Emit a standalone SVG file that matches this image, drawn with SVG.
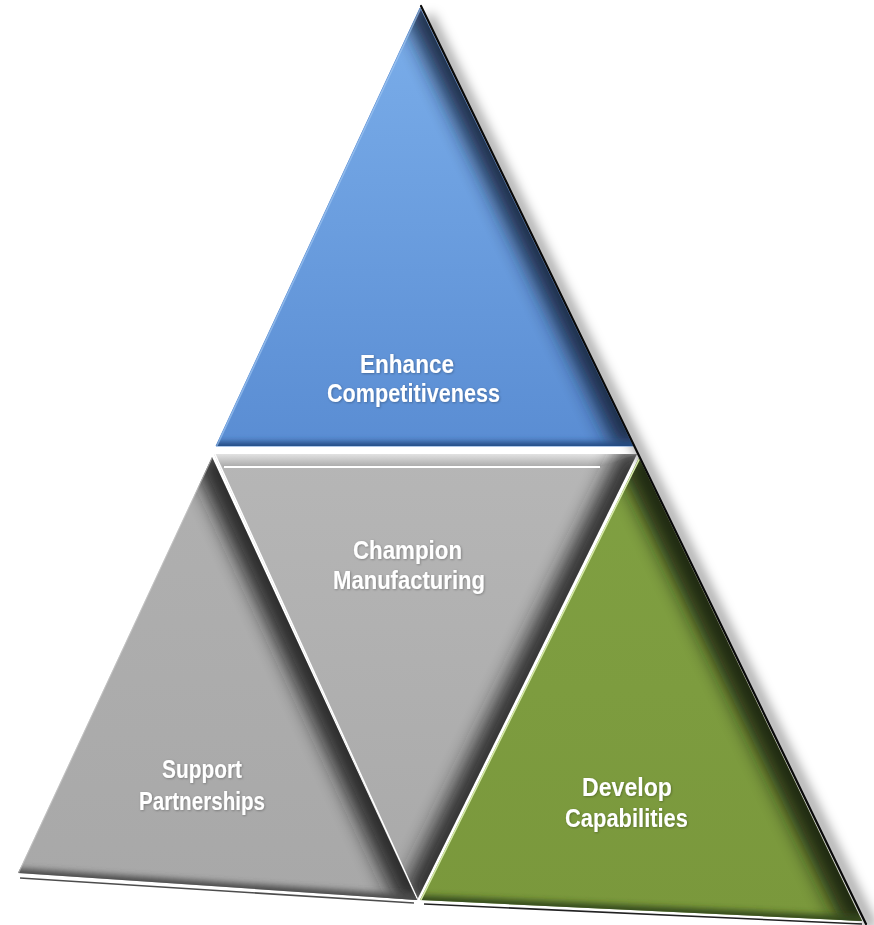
<svg xmlns="http://www.w3.org/2000/svg" width="874" height="925" viewBox="0 0 874 925">
<defs>
<style>
.lbl{font-family:"Liberation Sans",Arial,sans-serif;font-weight:bold;fill:#ffffff;filter:url(#ts)}
</style>
<linearGradient id="gBlue" gradientUnits="userSpaceOnUse" x1="0" y1="8" x2="0" y2="446"><stop offset="0" stop-color="#7BAEEA"/><stop offset="1" stop-color="#5A8DD3"/></linearGradient>
<linearGradient id="gMid" gradientUnits="userSpaceOnUse" x1="0" y1="454" x2="0" y2="900"><stop offset="0" stop-color="#b6b6b6"/><stop offset="1" stop-color="#a9a9a9"/></linearGradient>
<linearGradient id="gLeft" gradientUnits="userSpaceOnUse" x1="0" y1="457" x2="0" y2="900"><stop offset="0" stop-color="#b0b0b0"/><stop offset="1" stop-color="#a8a8a8"/></linearGradient>
<linearGradient id="gGreen" gradientUnits="userSpaceOnUse" x1="0" y1="458" x2="0" y2="920"><stop offset="0" stop-color="#80A042"/><stop offset="1" stop-color="#7A983C"/></linearGradient>
<linearGradient id="gTop" gradientUnits="userSpaceOnUse" x1="0" y1="454" x2="0" y2="467"><stop offset="0" stop-color="#e2e2e2"/><stop offset="1" stop-color="#a8a8a8"/></linearGradient>
<filter id="b10" filterUnits="userSpaceOnUse" x="0" y="0" width="874" height="925"><feGaussianBlur stdDeviation="10"/></filter>
<filter id="b6" filterUnits="userSpaceOnUse" x="0" y="0" width="874" height="925"><feGaussianBlur stdDeviation="6"/></filter>
<filter id="b3" filterUnits="userSpaceOnUse" x="0" y="0" width="874" height="925"><feGaussianBlur stdDeviation="3"/></filter>
<filter id="ts" x="-10%" y="-30%" width="120%" height="160%"><feDropShadow dx="0.8" dy="0.8" stdDeviation="1" flood-color="#000" flood-opacity="0.3"/></filter>
<clipPath id="cBlue"><polygon points="420,8 216,446 633,446"/></clipPath>
<clipPath id="cMid"><polygon points="214,454 637,454 417,900"/></clipPath>
<clipPath id="cLeft"><polygon points="212,457 18,873 417,900"/></clipPath>
<clipPath id="cGreen"><polygon points="639,458 420,900 862,921"/></clipPath>
</defs>
<rect width="874" height="925" fill="#ffffff"/>
<g id="shadow">
<line x1="428" y1="16" x2="872" y2="928" stroke="#000" stroke-opacity="0.4" stroke-width="10" filter="url(#b6)"/>
</g>
<g id="enhance-competitiveness">
<polygon points="420,8 216,446 633,446" fill="url(#gBlue)" stroke="#5A8DD3" stroke-width="1" stroke-linejoin="round"/>
<g clip-path="url(#cBlue)">
<line x1="420" y1="0" x2="637" y2="446" stroke="#14223a" stroke-width="40" filter="url(#b10)" opacity="0.9"/>
<line x1="200" y1="447" x2="640" y2="447" stroke="#234a80" stroke-width="10" filter="url(#b3)"/>
<line x1="420" y1="8" x2="216" y2="446" stroke="#a8cdf5" stroke-width="3" opacity="0.6"/>
</g>
<text class="lbl" x="360" y="373" font-size="25" textLength="94" lengthAdjust="spacingAndGlyphs">Enhance</text>
<text class="lbl" x="327" y="402" font-size="25" textLength="173" lengthAdjust="spacingAndGlyphs">Competitiveness</text>
</g>
<g id="champion-manufacturing">
<polygon points="214,454 637,454 417,900" fill="url(#gMid)"/>
<g clip-path="url(#cMid)">
<polygon points="214,454 637,454 600,467 223,467" fill="url(#gTop)"/>
<line x1="639" y1="452" x2="417" y2="902" stroke="#222" stroke-width="36" filter="url(#b10)" opacity="0.9"/>
<line x1="214" y1="454" x2="417" y2="900" stroke="#ffffff" stroke-width="3"/>
</g>
<line x1="224" y1="467" x2="600" y2="467" stroke="#ffffff" stroke-width="2"/>
<text class="lbl" x="353" y="559" font-size="25" textLength="109" lengthAdjust="spacingAndGlyphs">Champion</text>
<text class="lbl" x="333" y="589" font-size="25" textLength="152" lengthAdjust="spacingAndGlyphs">Manufacturing</text>
</g>
<g id="support-partnerships">
<polygon points="212,457 18,873 417,900" fill="url(#gLeft)"/>
<g clip-path="url(#cLeft)">
<line x1="210" y1="452" x2="419" y2="903" stroke="#1e1e1e" stroke-width="40" filter="url(#b10)" opacity="0.9"/>
<line x1="10" y1="874" x2="425" y2="902" stroke="#4a4a4a" stroke-width="12" filter="url(#b3)"/>
<line x1="212" y1="457" x2="18" y2="873" stroke="#d0d0d0" stroke-width="2" opacity="0.6"/>
</g>
<line x1="20" y1="878" x2="414" y2="903" stroke="#4d4d4d" stroke-width="1.6"/>
<text class="lbl" x="162" y="778" font-size="26" textLength="80" lengthAdjust="spacingAndGlyphs">Support</text>
<text class="lbl" x="139" y="810" font-size="26" textLength="126" lengthAdjust="spacingAndGlyphs">Partnerships</text>
</g>
<g id="develop-capabilities">
<polygon points="639,458 420,900 862,921" fill="url(#gGreen)"/>
<g clip-path="url(#cGreen)">
<line x1="637" y1="452" x2="866" y2="924" stroke="#141c08" stroke-width="44" filter="url(#b10)" opacity="0.9"/>
<line x1="410" y1="900" x2="870" y2="922" stroke="#33461a" stroke-width="10" filter="url(#b3)"/>
<line x1="639" y1="458" x2="420" y2="900" stroke="#d6eaa8" stroke-width="3"/>
</g>
<line x1="424" y1="904" x2="862" y2="924" stroke="#222" stroke-width="1.6"/>
<text class="lbl" x="582" y="796" font-size="26" textLength="90" lengthAdjust="spacingAndGlyphs">Develop</text>
<text class="lbl" x="565" y="827" font-size="26" textLength="123" lengthAdjust="spacingAndGlyphs">Capabilities</text>
</g>
<g id="connectors">
<line x1="421" y1="6" x2="866" y2="924" stroke="#0a0a0a" stroke-width="2.2" stroke-linecap="round"/>
</g>
</svg>
